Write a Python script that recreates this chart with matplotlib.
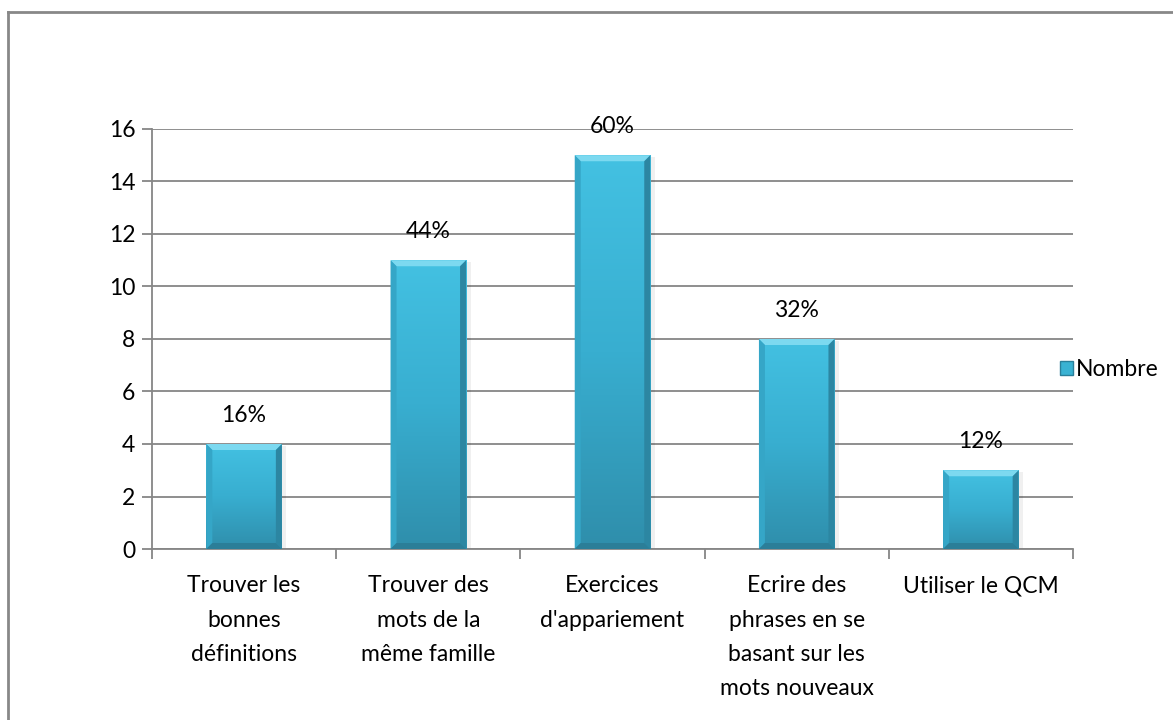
import matplotlib
matplotlib.use("Agg")
import matplotlib.pyplot as plt
import numpy as np
from matplotlib.patches import Polygon, Rectangle
from matplotlib.colors import LinearSegmentedColormap

categories = ["Trouver les\nbonnes\ndéfinitions", "Trouver des\nmots de la\nmême famille",
              "Exercices\nd'appariement", "Ecrire des\nphrases en se\nbasant sur les\nmots nouveaux",
              "Utiliser le QCM"]
values = [4, 11, 15, 8, 3]
pct_labels = ["16%", "44%", "60%", "32%", "12%"]
series_name = "Nombre"
yticks = [0, 2, 4, 6, 8, 10, 12, 14, 16]

plt.rcParams['font.family'] = ['Lato', 'DejaVu Sans']
FS = 16.5

fig = plt.figure(figsize=(11.73, 7.2), dpi=100)
ax = fig.add_axes([152/1173, 1-549/720, 921/1173, 420/720])

grid_c = "#868686"
x = np.arange(len(values))
bars = ax.bar(x, values, width=0.41, color="#3AADCE", edgecolor="none", zorder=3, label=series_name)

ax.set_xlim(-0.5, len(values) - 0.5)
ax.set_ylim(0, 16)
ax.set_yticks(yticks)
ax.set_yticklabels([str(t) for t in yticks], fontsize=FS)
ax.yaxis.grid(True, color=grid_c, linewidth=1.3, zorder=0)
ax.set_axisbelow(True)
for s in ["top", "right"]:
    ax.spines[s].set_visible(False)
for s in ["left", "bottom"]:
    ax.spines[s].set_color(grid_c)
    ax.spines[s].set_linewidth(1.3)
ax.tick_params(axis='y', length=7, color=grid_c, width=1.3, pad=5)

# x ticks at boundaries, labels at centers
ax.set_xticks(np.arange(-0.5, len(values), 1.0))
ax.set_xticklabels([])
ax.set_xticks(x, minor=True)
ax.set_xticklabels(categories, minor=True, fontsize=FS, linespacing=1.78, va='top')
ax.tick_params(axis='x', which='major', length=7, color=grid_c, width=1.3)
ax.tick_params(axis='x', which='minor', length=0, pad=19)

# gradient + bevels
cmap = LinearSegmentedColormap.from_list("g", ["#2F8EAB", "#38AED0", "#43C1E2"])
grad = np.linspace(0, 1, 256).reshape(-1, 1)
fig.canvas.draw()
inv = ax.transData.inverted()
p0 = inv.transform((0, 0))
p1 = inv.transform((6, 6))
bx, by = p1[0] - p0[0], p1[1] - p0[1]
sx = (inv.transform((3, 0))[0] - p0[0])
for b in bars:
    x0, y0 = b.get_x(), b.get_y()
    w, h = b.get_width(), b.get_height()
    x1, y1 = x0 + w, y0 + h
    # shadow
    ax.add_patch(Rectangle((x0 + sx * 0.5, y0), w + sx, h - by * 0.3, facecolor="#000000",
                           alpha=0.06, edgecolor="none", zorder=2.5))
    im = ax.imshow(grad, extent=(x0, x1, y0, y1), origin='lower', cmap=cmap,
                   aspect='auto', zorder=3.1)
    im.set_clip_path(b)
    ax.add_patch(Polygon([(x0, y1), (x1, y1), (x1 - bx, y1 - by), (x0 + bx, y1 - by)],
                         facecolor="#7CD9F0", edgecolor="none", zorder=3.2))
    ax.add_patch(Polygon([(x0, y0), (x0, y1), (x0 + bx, y1 - by), (x0 + bx, y0 + by)],
                         facecolor="#35A6C7", edgecolor="none", zorder=3.2))
    ax.add_patch(Polygon([(x1, y0), (x1, y1), (x1 - bx, y1 - by), (x1 - bx, y0 + by)],
                         facecolor="#2C86A2", edgecolor="none", zorder=3.2))
    ax.add_patch(Polygon([(x0, y0), (x1, y0), (x1 - bx, y0 + by), (x0 + bx, y0 + by)],
                         facecolor="#2B7E98", edgecolor="none", zorder=3.2))

for xi, v, lab in zip(x, values, pct_labels):
    ax.annotate(lab, (xi, v), xytext=(0, 13), textcoords='offset points',
                ha='center', va='bottom', fontsize=FS)

ax.set_xlim(-0.5, len(values) - 0.5)
ax.set_ylim(0, 16)

# legend
handle = Rectangle((0, 0), 1, 1, facecolor="#3AB2D3", edgecolor="#2A7F9A", linewidth=1)
fig.legend([handle], [series_name], loc='center left', bbox_to_anchor=(1060/1173, 1-370/720),
           frameon=False, fontsize=FS, handlelength=0.55, handleheight=0.55, handletextpad=0.15,
           borderaxespad=0, borderpad=0)

# outer border (extends beyond canvas on right/bottom)
fig.add_artist(plt.Line2D([8/1173, 8/1173], [0, 1-12/720], color="#888888", linewidth=2,
                          transform=fig.transFigure))
fig.add_artist(plt.Line2D([8/1173, 1], [1-12/720, 1-12/720], color="#888888", linewidth=2,
                          transform=fig.transFigure))

fig.savefig("out.png", dpi=100)
